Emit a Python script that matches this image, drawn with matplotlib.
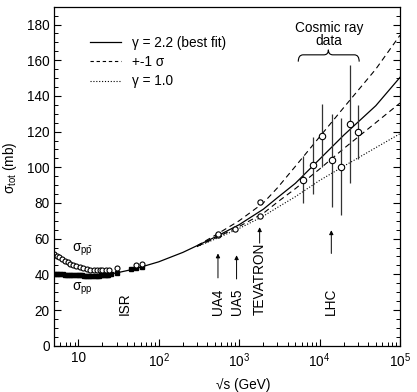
import matplotlib

matplotlib.use("Agg")
import matplotlib.pyplot as plt
from matplotlib.lines import Line2D
from matplotlib.patches import PathPatch
from matplotlib.path import Path
from matplotlib.ticker import FixedLocator, LogLocator, MultipleLocator, NullFormatter

# ── Data ──────────────────────────────────────────────────────────────────
ppbar_sqrts = [5.0, 5.4, 5.8, 6.3, 6.8, 7.4, 8.0, 8.7, 9.5, 10.4, 11.5, 12.7,
               14.0, 15.5, 17.0, 18.5, 20.0, 22.0, 24.0, 30.4, 52.6, 62.3]
ppbar_sigma = [51.5, 50.5, 49.5, 48.5, 47.6, 46.8, 46.0, 45.2, 44.6, 44.0, 43.5, 43.0,
               42.6, 42.4, 42.3, 42.3, 42.4, 42.4, 42.5, 43.3, 45.5, 45.8]

pp_sqrts = [5.0, 5.3, 5.6, 6.0, 6.4, 6.8, 7.2, 7.6, 8.1, 8.7, 9.3, 10.0, 10.6, 11.2,
            11.9, 12.6, 13.3, 14.1, 15.0, 16.0, 17.0, 18.0, 19.4, 20.5, 21.5, 22.5,
            23.5, 25.5, 30.6, 44.7, 52.8, 62.3]
pp_sigma = [40.2, 40.1, 40.1, 40.0, 40.0, 39.9, 39.8, 39.8, 39.7, 39.6, 39.6, 39.5, 39.4,
            39.4, 39.3, 39.3, 39.2, 39.2, 39.2, 39.2, 39.3, 39.3, 39.4, 39.5, 39.6, 39.7,
            39.8, 40.0, 41.0, 42.8, 43.4, 44.0]

collider_sqrts = [546, 546, 900, 1800, 1800]
collider_sigma = [61.9, 62.6, 65.5, 72.8, 80.6]

cosmic_sqrts = [6170, 8240, 10800, 14100, 18300, 23900, 30100]
cosmic_sigma = [93.1, 101.1, 117.7, 103.9, 100.4, 124.2, 119.9]
cosmic_err = [13.0, 16.0, 17.5, 26.0, 27.0, 33.0, 15.0]

fit_sqrts = [5, 10, 20, 30, 50, 100, 200, 500, 1000, 2000, 3000, 5000, 1e4, 2e4, 5e4, 1e5]
fit_best = [40.3, 39.4, 39.5, 40.8, 43.0, 47.0, 52.3, 60.8, 67.8, 76.5, 83.0, 91.0,
            104.5, 118.0, 134.5, 150.4]

band_sqrts = [300, 500, 1000, 2000, 3000, 5000, 1e4, 2e4, 5e4, 1e5]
fit_upper = [56.0, 61.8, 70.0, 80.0, 88.5, 100.5, 117.0, 133.5, 155.0, 174.0]
fit_lower = [55.6, 60.2, 66.8, 74.2, 80.5, 88.0, 99.0, 110.5, 125.0, 136.0]
fit_gamma1 = [55.5, 59.7, 65.7, 72.6, 77.5, 83.5, 92.6, 100.6, 111.0, 118.8]

# machine markers: label, sqrt(s), arrow (from, to) or None
machines = [
    ("ISR", 37.6, None),
    ("UA4", 546, (38.0, 51.7)),
    ("UA5", 930, (37.4, 50.7)),
    ("TEVATRON", 1800, (57.5, 66.4)),
    ("LHC", 14000, (51.7, 64.7)),
]

plt.rcParams["font.family"] = ["Liberation Sans", "DejaVu Sans"]
plt.rcParams["font.size"] = 9.8
plt.rcParams["mathtext.fontset"] = "custom"
plt.rcParams["mathtext.rm"] = "Liberation Sans"
plt.rcParams["mathtext.it"] = "Liberation Sans:italic"
plt.rcParams["mathtext.default"] = "regular"


def main() -> None:
    fig = plt.figure(figsize=(4.17, 3.92), dpi=100)
    ax = fig.add_axes([54 / 417, 1 - 345.7 / 392, 346 / 417, 339 / 392])

    # ── Fit curves ─────────────────────────────────────────────────────────
    ax.plot(fit_sqrts, fit_best, color="k", lw=0.9)
    ax.plot(band_sqrts, fit_upper, color="k", lw=0.8, ls=(0, (5, 3.5)))
    ax.plot(band_sqrts, fit_lower, color="k", lw=0.8, ls=(0, (5, 3.5)))
    ax.plot(band_sqrts, fit_gamma1, color="k", lw=0.8, ls=(0, (1, 1.6)))

    # ── Data ───────────────────────────────────────────────────────────────
    ax.plot(pp_sqrts, pp_sigma, ls="none", marker="s", ms=3.0, color="k")
    ax.plot(ppbar_sqrts, ppbar_sigma, ls="none", marker="o", ms=3.6,
            mfc="white", mec="k", mew=0.8)
    ax.plot(collider_sqrts, collider_sigma, ls="none", marker="o", ms=3.8,
            mfc="white", mec="k", mew=0.8)
    ax.errorbar(cosmic_sqrts, cosmic_sigma, yerr=cosmic_err, fmt="o", ms=4.6,
                mfc="white", mec="k", mew=0.8, ecolor="#333333", elinewidth=0.9,
                capsize=0, zorder=3)

    # ── Annotations ────────────────────────────────────────────────────────
    ax.text(11.3, 53.6, r"σ$_{p\bar{p}}$", ha="center", va="center")
    ax.text(11.3, 32.0, r"σ$_{pp}$", ha="center", va="center")
    for name, x, arrow in machines:
        ax.text(x, 17.2, name, rotation=90, ha="center", va="bottom")
        if arrow is not None:
            ax.annotate("", xy=(x, arrow[1]), xytext=(x, arrow[0]),
                        arrowprops=dict(arrowstyle="-|>", lw=0.7, color="k",
                                        mutation_scale=6, shrinkA=0, shrinkB=0))

    ax.text(13060, 174.5, "Cosmic ray\ndata", ha="center", va="center", linespacing=0.85)
    verts = [
        (0.706, 0.838), (0.706, 0.858), (0.720, 0.858),
        (0.780, 0.858), (0.793, 0.858), (0.793, 0.873),
        (0.793, 0.858), (0.806, 0.858), (0.868, 0.858),
        (0.882, 0.858), (0.882, 0.838),
    ]
    codes = [Path.MOVETO, Path.CURVE3, Path.CURVE3, Path.LINETO, Path.CURVE3, Path.CURVE3,
             Path.CURVE3, Path.CURVE3, Path.LINETO, Path.CURVE3, Path.CURVE3]
    ax.add_patch(PathPatch(Path(verts, codes), transform=ax.transAxes, fill=False,
                           lw=0.8, color="k"))

    handles = [
        Line2D([], [], color="k", lw=0.9),
        Line2D([], [], color="k", lw=0.8, ls=(0, (3, 2.5))),
        Line2D([], [], color="k", lw=0.8, ls=(0, (1, 1.6))),
    ]
    ax.legend(handles, ["γ = 2.2 (best fit)", "+-1 σ", "γ = 1.0"], loc="upper left",
              bbox_to_anchor=(0.104, 0.915), frameon=False, borderpad=0,
              borderaxespad=0, handlelength=2.3, handletextpad=0.8, labelspacing=0.4)

    # ── Axes ───────────────────────────────────────────────────────────────
    ax.set_xscale("log")
    ax.set_xlim(5, 1e5)
    ax.set_ylim(0, 190)
    ax.xaxis.set_major_locator(FixedLocator([10, 1e2, 1e3, 1e4, 1e5]))
    ax.set_xticklabels(["10", r"10$^2$", r"10$^3$", r"10$^4$", r"10$^5$"])
    ax.xaxis.set_minor_locator(LogLocator(base=10, subs=range(2, 10), numticks=20))
    ax.xaxis.set_minor_formatter(NullFormatter())
    ax.yaxis.set_minor_locator(MultipleLocator(5))
    ax.set_yticks(range(0, 181, 20))
    ax.tick_params(which="both", direction="in", left=True, right=True, top=False)
    ax.tick_params(which="major", length=5, width=0.8)
    ax.tick_params(which="minor", length=2.8, width=0.7)
    ax.tick_params(axis="x", pad=4)
    ax.tick_params(axis="y", pad=3)
    for spine in ax.spines.values():
        spine.set_linewidth(0.9)

    ax.set_xlabel("√s (GeV)")
    ax.xaxis.set_label_coords(0.546, -0.094)
    ax.set_ylabel(r"σ$_{tot}$ (mb)")
    ax.yaxis.set_label_coords(-0.100, 0.526)

    fig.savefig("out.png", dpi=100)
    plt.close(fig)


if __name__ == "__main__":
    main()
